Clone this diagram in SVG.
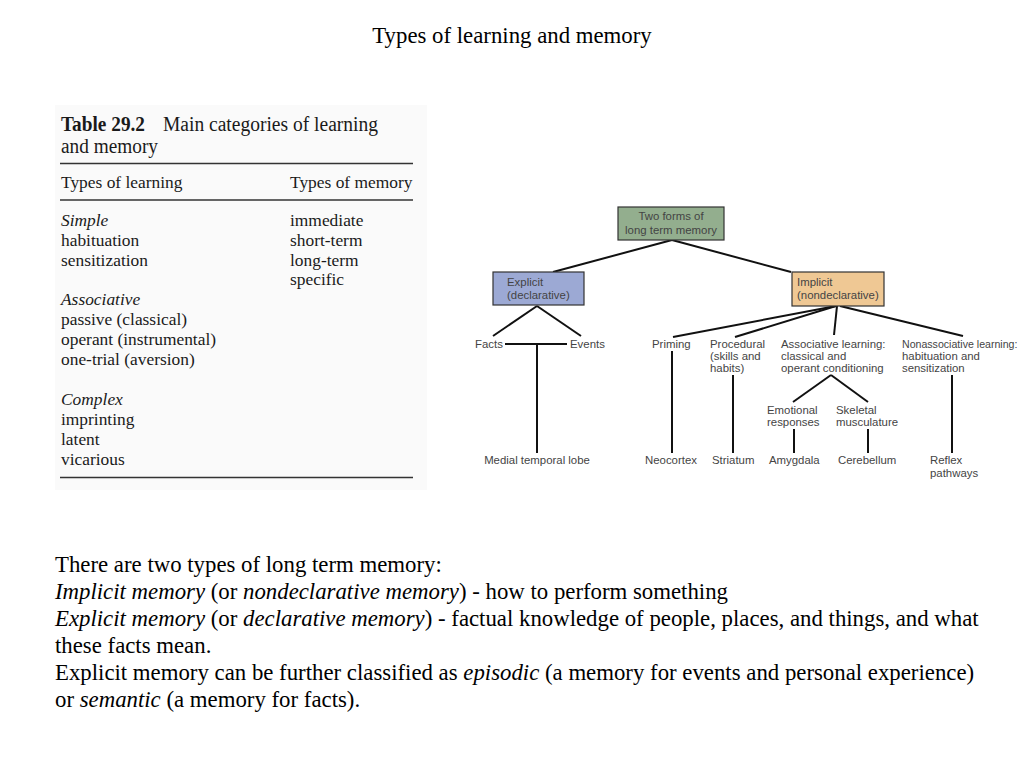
<svg xmlns="http://www.w3.org/2000/svg" width="1024" height="768" viewBox="0 0 1024 768">
<style>
.serif{font-family:"Liberation Serif","Times New Roman",serif;fill:#000}
.tbl{font-family:"Liberation Serif","Times New Roman",serif;fill:#1a1a1a;font-size:17.4px}
.hd{font-size:20px}
.it{font-style:italic}
.sans{font-family:"Liberation Sans",Arial,sans-serif;font-size:11.4px;fill:#444}
.sm{font-size:10.6px}
.box{stroke:#333;stroke-width:1.2}
.conn{stroke:#111;stroke-width:2;fill:none}
.rule{stroke:#333;stroke-width:1.3}
</style>
<rect width="1024" height="768" fill="#fff"/>
<text class="serif" x="512" y="43" font-size="22.8" text-anchor="middle">Types of learning and memory</text>

<g id="table">
<rect x="55" y="105" width="372" height="385" fill="#fafafa"/>
<text class="tbl hd" x="61" y="131" font-weight="bold" textLength="84" lengthAdjust="spacingAndGlyphs">Table 29.2</text>
<text class="tbl hd" x="163" y="131" textLength="215" lengthAdjust="spacingAndGlyphs">Main categories of learning</text>
<text class="tbl hd" x="61" y="153" textLength="97" lengthAdjust="spacingAndGlyphs">and memory</text>
<line class="rule" x1="60" y1="163.5" x2="413" y2="163.5"/>
<text class="tbl" x="61" y="188">Types of learning</text>
<text class="tbl" x="290" y="188">Types of memory</text>
<line class="rule" x1="60" y1="200" x2="413" y2="200"/>
<text class="tbl it" x="61" y="226">Simple</text>
<text class="tbl" x="61" y="246">habituation</text>
<text class="tbl" x="61" y="266">sensitization</text>
<text class="tbl" x="290" y="226">immediate</text>
<text class="tbl" x="290" y="246">short-term</text>
<text class="tbl" x="290" y="266">long-term</text>
<text class="tbl" x="290" y="285">specific</text>
<text class="tbl it" x="61" y="305">Associative</text>
<text class="tbl" x="61" y="325">passive (classical)</text>
<text class="tbl" x="61" y="345">operant (instrumental)</text>
<text class="tbl" x="61" y="365">one-trial (aversion)</text>
<text class="tbl it" x="61" y="405">Complex</text>
<text class="tbl" x="61" y="425">imprinting</text>
<text class="tbl" x="61" y="445">latent</text>
<text class="tbl" x="61" y="465">vicarious</text>
<line class="rule" x1="60" y1="477.5" x2="413" y2="477.5"/>
</g>

<g id="connectors">
<line class="conn" x1="672" y1="240" x2="553" y2="272"/>
<line class="conn" x1="672" y1="240" x2="791" y2="272"/>
<line class="conn" x1="537" y1="306" x2="493" y2="336"/>
<line class="conn" x1="537" y1="306" x2="581" y2="336"/>
<line class="conn" x1="505" y1="344" x2="567" y2="344"/>
<line class="conn" x1="537" y1="344" x2="537" y2="453"/>
<line class="conn" x1="836" y1="306" x2="673" y2="337"/>
<line class="conn" x1="836" y1="306" x2="735" y2="337"/>
<line class="conn" x1="837" y1="306" x2="834" y2="335"/>
<line class="conn" x1="840" y1="306" x2="963" y2="336"/>
<line class="conn" x1="672" y1="351" x2="672" y2="453"/>
<line class="conn" x1="733" y1="375" x2="733" y2="453"/>
<line class="conn" x1="831" y1="375" x2="793" y2="402"/>
<line class="conn" x1="831" y1="375" x2="868" y2="402"/>
<line class="conn" x1="794" y1="429" x2="794" y2="453"/>
<line class="conn" x1="868" y1="429" x2="868" y2="453"/>
<line class="conn" x1="952" y1="375" x2="952" y2="453"/>
</g>

<g id="node-root">
<rect class="box" x="618" y="207" width="106" height="33" fill="#93ae8e"/>
<text class="sans" x="671" y="220" text-anchor="middle">Two forms of</text>
<text class="sans" x="671" y="234" text-anchor="middle">long term memory</text>
</g>
<g id="node-explicit">
<rect class="box" x="493" y="272" width="91" height="33" fill="#9ca9d4"/>
<text class="sans" x="507" y="286">Explicit</text>
<text class="sans" x="507" y="299">(declarative)</text>
</g>
<g id="node-implicit">
<rect class="box" x="792" y="272" width="92" height="34" fill="#efc894"/>
<text class="sans" x="797" y="286">Implicit</text>
<text class="sans" x="797" y="299">(nondeclarative)</text>
</g>
<g id="node-facts"><text class="sans" x="475" y="348">Facts</text></g>
<g id="node-events"><text class="sans" x="570" y="348">Events</text></g>
<g id="node-mtl"><text class="sans" x="537" y="464" text-anchor="middle">Medial temporal lobe</text></g>
<g id="node-priming"><text class="sans" x="652" y="348">Priming</text></g>
<g id="node-procedural"><text class="sans" x="710" y="348">Procedural<tspan x="710" dy="12">(skills and</tspan><tspan x="710" dy="12">habits)</tspan></text></g>
<g id="node-associative"><text class="sans" x="781" y="348">Associative learning:<tspan x="781" dy="12">classical and</tspan><tspan x="781" dy="12">operant conditioning</tspan></text></g>
<g id="node-nonassociative"><text class="sans sm" x="902" y="348">Nonassociative learning:</text><text class="sans" x="902" y="360">habituation and<tspan x="902" dy="12">sensitization</tspan></text></g>
<g id="node-emotional"><text class="sans" x="767" y="414">Emotional<tspan x="767" dy="12">responses</tspan></text></g>
<g id="node-skeletal"><text class="sans" x="836" y="414">Skeletal<tspan x="836" dy="12">musculature</tspan></text></g>
<g id="node-neocortex"><text class="sans" x="645" y="464">Neocortex</text></g>
<g id="node-striatum"><text class="sans" x="712" y="464">Striatum</text></g>
<g id="node-amygdala"><text class="sans" x="769" y="464">Amygdala</text></g>
<g id="node-cerebellum"><text class="sans" x="838" y="464">Cerebellum</text></g>
<g id="node-reflex"><text class="sans" x="930" y="464">Reflex<tspan x="930" dy="13">pathways</tspan></text></g>

<g id="paragraph" class="serif" font-size="22.8">
<text x="55" y="572">There are two types of long term memory:</text>
<text x="55" y="599"><tspan font-style="italic">Implicit memory</tspan> (or <tspan font-style="italic">nondeclarative memory</tspan>) - how to perform something</text>
<text x="55" y="626"><tspan font-style="italic">Explicit memory</tspan> (or <tspan font-style="italic">declarative memory</tspan>) - factual knowledge of people, places, and things, and what</text>
<text x="55" y="653">these facts mean.</text>
<text x="55" y="680">Explicit memory can be further classified as <tspan font-style="italic">episodic</tspan> (a memory for events and personal experience)</text>
<text x="55" y="707">or <tspan font-style="italic">semantic</tspan> (a memory for facts).</text>
</g>
</svg>
